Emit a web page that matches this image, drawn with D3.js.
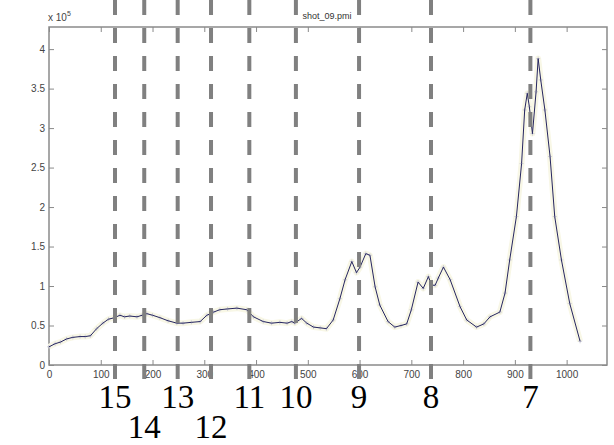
<!DOCTYPE html>
<html>
<head>
<meta charset="utf-8">
<script src="https://cdn.jsdelivr.net/npm/d3@7"></script>
<style>
  html, body { margin: 0; padding: 0; background: #fff; }
  svg { display: block; }
</style>
</head>
<body>
<script>
// trace of shot_09.pmi, y in units of 1e5
const sampleX = [0, 12, 22, 34, 46, 60, 70, 80, 92, 104, 115, 127, 137, 146, 156, 170, 180, 189, 200, 214, 230, 247, 259, 275, 292, 305, 318, 330, 345, 363, 382, 395, 414, 430, 446, 460, 469, 475, 488, 498, 511, 524, 536, 549, 562, 572, 585, 594, 601, 612, 620, 630, 639, 655, 668, 680, 691, 700, 713, 723, 733, 739, 746, 752, 762, 775, 794, 807, 826, 840, 852, 871, 881, 890, 903, 913, 919, 924, 928, 934, 941, 945, 950, 958, 968, 977, 990, 1006, 1026];
const sampleY = [0.23, 0.27, 0.29, 0.33, 0.35, 0.36, 0.36, 0.37, 0.46, 0.53, 0.58, 0.60, 0.63, 0.61, 0.62, 0.61, 0.63, 0.65, 0.63, 0.60, 0.56, 0.53, 0.53, 0.54, 0.55, 0.63, 0.67, 0.70, 0.71, 0.72, 0.70, 0.61, 0.55, 0.53, 0.54, 0.53, 0.55, 0.53, 0.59, 0.53, 0.48, 0.47, 0.46, 0.57, 0.84, 1.08, 1.31, 1.17, 1.24, 1.41, 1.39, 0.99, 0.76, 0.55, 0.48, 0.50, 0.52, 0.70, 1.05, 0.97, 1.12, 1.01, 1.01, 1.10, 1.24, 1.08, 0.74, 0.57, 0.48, 0.52, 0.61, 0.67, 0.91, 1.33, 1.88, 2.55, 3.23, 3.44, 3.27, 2.93, 3.46, 3.88, 3.61, 3.23, 2.64, 1.88, 1.33, 0.78, 0.30];

const xTicks = [0, 100, 200, 300, 400, 500, 600, 700, 800, 900, 1000];
const yTicks = [0, 0.5, 1, 1.5, 2, 2.5, 3, 3.5, 4];

// dashed markers and their labels
const markX = [127.5, 184, 248.6, 313, 387, 477, 599, 738, 930];
const markLabel = ["15", "14", "13", "12", "11", "10", "9", "8", "7"];
const markRow = [0, 1, 0, 1, 0, 0, 0, 0, 0];

const width = 614, height = 445;
const margin = {top: 27, right: 7, bottom: 80, left: 49};

const x = d3.scaleLinear().domain([0, 1078]).range([margin.left, width - margin.right]);
const y = d3.scaleLinear().domain([0, 4.28]).range([height - margin.bottom, margin.top]);

const svg = d3.select("body").append("svg")
    .attr("width", width)
    .attr("height", height)
    .attr("font-family", "Arial, Liberation Sans, sans-serif");

const axisColor = "#8a8a8a";

// frame
svg.append("rect")
    .attr("x", x(0)).attr("y", y(4.28))
    .attr("width", x(1078) - x(0)).attr("height", y(0) - y(4.28))
    .attr("fill", "none").attr("stroke", axisColor).attr("stroke-width", 1.5);

const gx = svg.append("g")
    .attr("transform", `translate(0,${y(0)})`)
    .call(d3.axisBottom(x).tickValues(xTicks).tickSize(-5).tickPadding(6).tickFormat(d3.format("d")));
const gxTop = svg.append("g")
    .attr("transform", `translate(0,${y(4.28)})`)
    .call(d3.axisTop(x).tickValues(xTicks).tickSize(-5).tickFormat(""));
const gy = svg.append("g")
    .attr("transform", `translate(${x(0)},0)`)
    .call(d3.axisLeft(y).tickValues(yTicks).tickSize(-5).tickPadding(4).tickFormat(d3.format("")));
const gyRight = svg.append("g")
    .attr("transform", `translate(${x(1078)},0)`)
    .call(d3.axisRight(y).tickValues(yTicks).tickSize(-5).tickFormat(""));

[gx, gxTop, gy, gyRight].forEach(g => {
  g.select(".domain").remove();
  g.selectAll(".tick line").attr("stroke", axisColor);
  g.selectAll(".tick text").attr("fill", "#444").attr("font-size", 10);
});

// exponent label
const ex = svg.append("text")
    .attr("x", x(0) - 1).attr("y", 21)
    .attr("font-size", 10).attr("fill", "#444")
    .text("x 10");
ex.append("tspan").attr("dy", -5).attr("font-size", 7).text("5");

// title
svg.append("text")
    .attr("x", 327).attr("y", 19)
    .attr("text-anchor", "middle")
    .attr("font-size", 9).attr("fill", "#333")
    .text("shot_09.pmi");

const pts = sampleX.map((d, i) => [d, sampleY[i]]);
const line = d3.line().x(d => x(d[0])).y(d => y(d[1]));

// faint halo
svg.append("path")
    .datum(pts)
    .attr("fill", "none")
    .attr("stroke", "#f8f7e6")
    .attr("stroke-width", 6)
    .attr("stroke-linejoin", "round")
    .attr("d", line);

// sample markers
svg.append("g")
    .selectAll("path")
    .data(pts)
    .join("path")
    .attr("d", d => `M${x(d[0]) - 2},${y(d[1])}h4M${x(d[0])},${y(d[1]) - 2}v4`)
    .attr("stroke", "#c4c4d0")
    .attr("stroke-width", 0.8);

svg.append("path")
    .datum(pts)
    .attr("fill", "none")
    .attr("stroke", "#262660")
    .attr("stroke-width", 1)
    .attr("d", line);

// dashed lines
svg.append("g")
    .selectAll("line")
    .data(markX)
    .join("line")
    .attr("x1", d => x(d)).attr("x2", d => x(d))
    .attr("y1", 0).attr("y2", 380)
    .attr("stroke", "#808080")
    .attr("stroke-width", 4)
    .attr("stroke-dasharray", "15,13");

svg.append("g")
    .selectAll("text")
    .data(markLabel)
    .join("text")
    .attr("x", (d, i) => x(markX[i]))
    .attr("y", (d, i) => markRow[i] ? 438 : 408)
    .attr("text-anchor", "middle")
    .attr("font-family", "Liberation Serif, Times New Roman, serif")
    .attr("font-size", 33)
    .attr("fill", "#000")
    .text(d => d);
</script>
</body>
</html>
